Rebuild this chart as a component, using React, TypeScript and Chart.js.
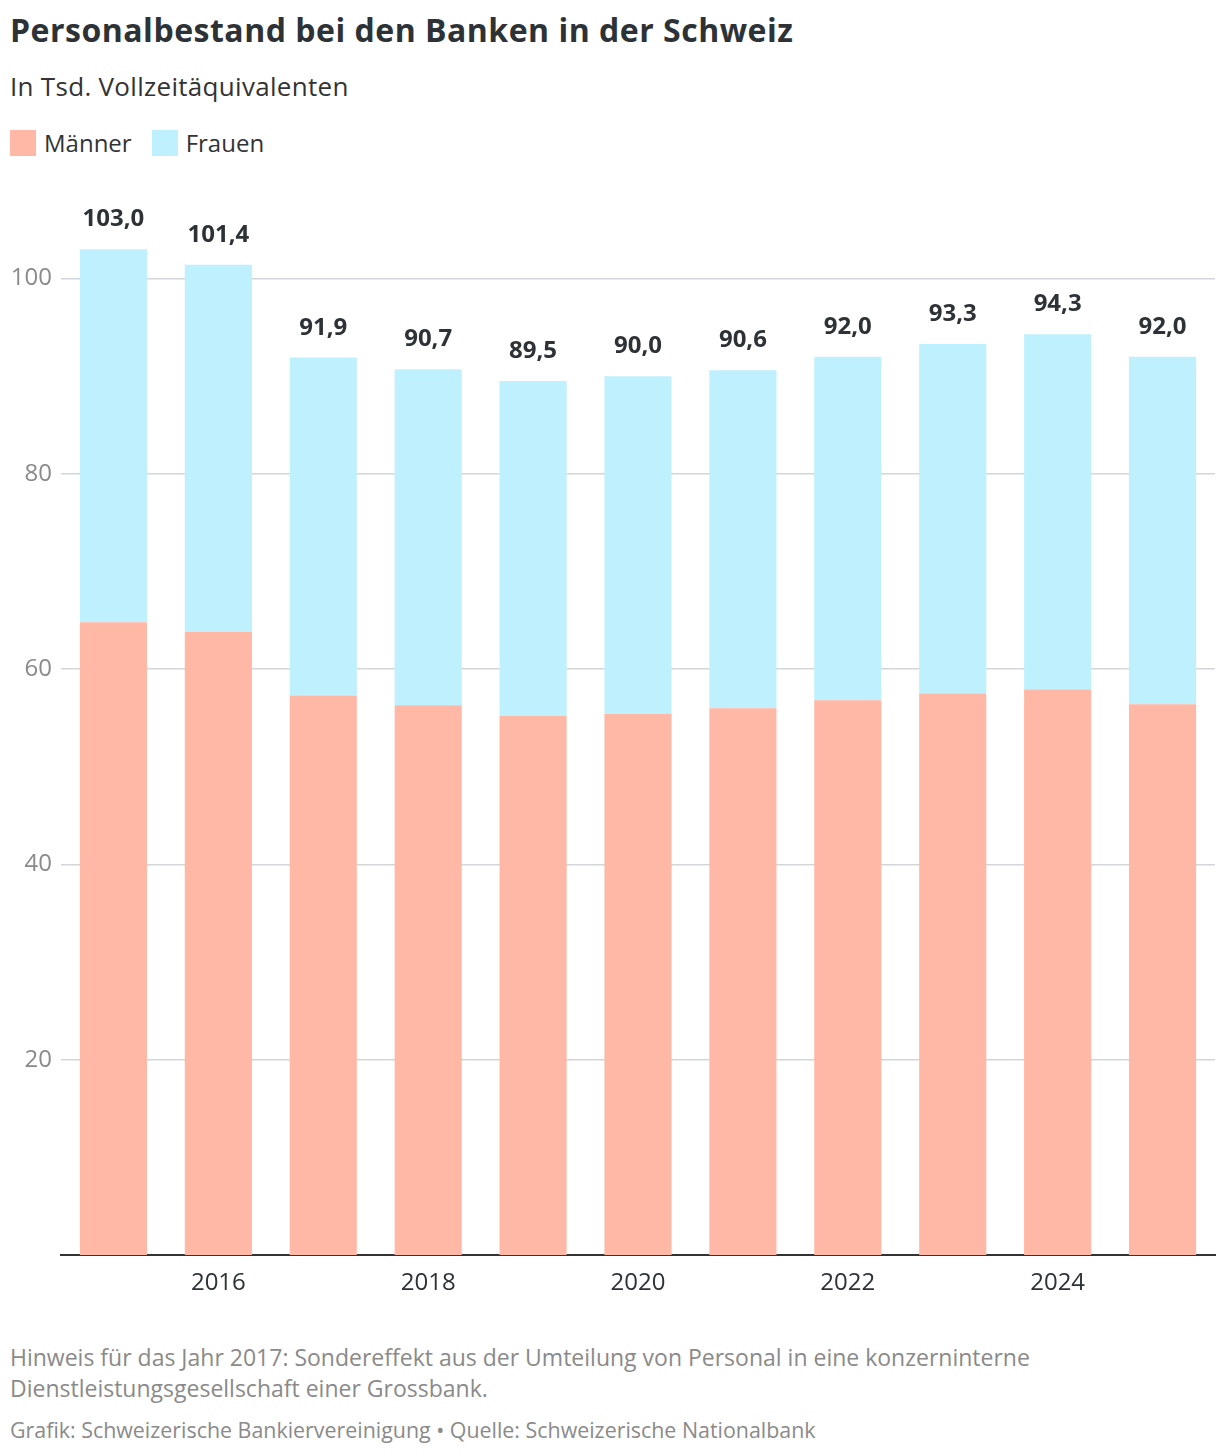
import React, { useEffect, useRef } from 'react';
import { Chart, ChartConfiguration, registerables } from 'chart.js';

Chart.register(...registerables);

const years = ['2015', '2016', '2017', '2018', '2019', '2020', '2021', '2022', '2023', '2024', '2025'];
const maenner = [64.8, 63.8, 57.3, 56.3, 55.2, 55.4, 56.0, 56.8, 57.5, 57.9, 56.4];
const frauen = [38.2, 37.6, 34.6, 34.4, 34.3, 34.6, 34.6, 35.2, 35.8, 36.4, 35.6];
const yTicks = [20, 40, 60, 80, 100];

const FONT = '"Open Sans", Lato, sans-serif';
const DARK = '#2d3236';
const GREY = '#8a8a8a';
const MEN_COLOR = '#ffb8a6';
const WOMEN_COLOR = '#bff0fd';

const totalsPlugin = {
  id: 'totals',
  afterDatasetsDraw(chart: any) {
    const { ctx } = chart;
    const meta = chart.getDatasetMeta(1);
    ctx.save();
    ctx.font = `bold 24px ${FONT}`;
    ctx.fillStyle = DARK;
    ctx.textAlign = 'center';
    ctx.textBaseline = 'alphabetic';
    meta.data.forEach((bar: any, i: number) => {
      const total = Math.round((maenner[i] + frauen[i]) * 10) / 10;
      ctx.fillText(total.toFixed(1).replace('.', ','), bar.x, bar.y - 23);
    });
    ctx.restore();
  },
};

export default function App() {
  const canvasRef = useRef<HTMLCanvasElement | null>(null);
  const chartRef = useRef<Chart<'bar'> | null>(null);

  useEffect(() => {
    document.body.style.margin = '0';
    if (!canvasRef.current) return;
    const config: ChartConfiguration<'bar'> = {
      type: 'bar',
      data: {
        labels: years,
        datasets: [
          {
            label: 'Männer',
            data: maenner,
            backgroundColor: MEN_COLOR,
            barPercentage: 0.64,
            categoryPercentage: 1,
          },
          {
            label: 'Frauen',
            data: frauen,
            backgroundColor: WOMEN_COLOR,
            barPercentage: 0.64,
            categoryPercentage: 1,
          },
        ],
      },
      options: {
        animation: false,
        responsive: true,
        maintainAspectRatio: false,
        layout: { padding: { top: 6, right: 5, left: 0, bottom: 0 } },
        plugins: {
          legend: { display: false },
          tooltip: { enabled: false },
        },
        scales: {
          x: {
            stacked: true,
            grid: { display: false },
            border: { color: '#333', width: 2 },
            ticks: {
              color: DARK,
              font: { family: FONT, size: 24 },
              padding: 6,
              autoSkip: false,
              maxRotation: 0,
              callback: (_v: any, i: number) => (Number(years[i]) % 2 === 0 ? years[i] : ''),
            },
            afterFit: (scale: any) => {
              scale.height = 50;
            },
          },
          y: {
            stacked: true,
            min: 0,
            max: 108,
            afterBuildTicks: (scale: any) => {
              scale.ticks = yTicks.map((v) => ({ value: v }));
            },
            grid: { color: '#d3d6d9', lineWidth: 1.5, drawTicks: false },
            border: { display: false },
            ticks: {
              color: GREY,
              font: { family: FONT, size: 24 },
              padding: 9,
            },
            afterFit: (scale: any) => {
              scale.width = 61;
            },
          },
        },
      },
      plugins: [totalsPlugin],
    };
    chartRef.current = new Chart(canvasRef.current, config);
    return () => {
      chartRef.current?.destroy();
    };
  }, []);

  const legendItem = (color: string, label: string) => (
    <span style={{ display: 'inline-flex', alignItems: 'center', marginRight: 20 }}>
      <span style={{ width: 26, height: 26, background: color, display: 'inline-block', marginRight: 8 }} />
      <span>{label}</span>
    </span>
  );

  return (
    <div style={{ width: 1220, height: 1456, fontFamily: FONT, color: DARK, position: 'relative', background: '#fff' }}>
      <div style={{ position: 'absolute', left: 10, top: 8, fontSize: 32, fontWeight: 700, letterSpacing: 0.5, whiteSpace: 'nowrap' }}>
        Personalbestand bei den Banken in der Schweiz
      </div>
      <div style={{ position: 'absolute', left: 10, top: 68, fontSize: 26, letterSpacing: 0.3, color: '#333', whiteSpace: 'nowrap' }}>
        In Tsd. Vollzeitäquivalenten
      </div>
      <div style={{ position: 'absolute', left: 10, top: 126, fontSize: 24, color: '#333', display: 'flex' }}>
        {legendItem(MEN_COLOR, 'Männer')}
        {legendItem(WOMEN_COLOR, 'Frauen')}
      </div>
      <div style={{ position: 'absolute', left: 0, top: 177, width: 1220, height: 1128 }}>
        <canvas ref={canvasRef} role="img" aria-label="Gestapeltes Säulendiagramm Personalbestand Banken Schweiz" />
      </div>
      <div style={{ position: 'absolute', left: 10, top: 1342, fontSize: 23, color: GREY, lineHeight: '31px', width: 1200, whiteSpace: 'nowrap' }}>
        Hinweis für das Jahr 2017: Sondereffekt aus der Umteilung von Personal in eine konzerninterne
        <br />
        Dienstleistungsgesellschaft einer Grossbank.
      </div>
      <div style={{ position: 'absolute', left: 10, top: 1415, fontSize: 21.4, color: GREY, whiteSpace: 'nowrap' }}>
        Grafik: Schweizerische Bankiervereinigung • Quelle: Schweizerische Nationalbank
      </div>
    </div>
  );
}
